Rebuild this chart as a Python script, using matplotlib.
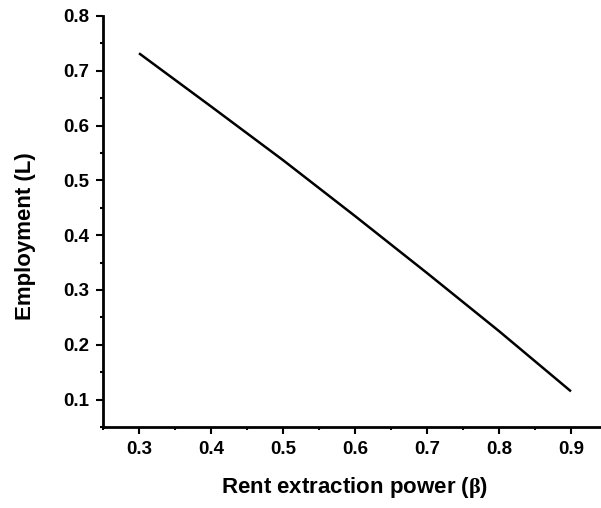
import numpy as np
import matplotlib
matplotlib.use('Agg')
import matplotlib.pyplot as plt
from matplotlib.ticker import MultipleLocator

# values
beta = [0.3, 0.4, 0.5, 0.6, 0.7, 0.8, 0.9]
employment = [0.732, 0.635, 0.537, 0.435, 0.331, 0.225, 0.115]

x_ticks = [0.3, 0.4, 0.5, 0.6, 0.7, 0.8, 0.9]
y_ticks = [0.1, 0.2, 0.3, 0.4, 0.5, 0.6, 0.7, 0.8]

plt.rcParams['font.family'] = ['Liberation Sans', 'DejaVu Sans']
plt.rcParams['font.weight'] = 'bold'
plt.rcParams['mathtext.fontset'] = 'custom'
plt.rcParams['mathtext.rm'] = 'Liberation Serif'

fig = plt.figure(figsize=(6.01, 5.08), dpi=100)
ax = fig.add_axes([103/601, 81/508, 720*0.7/601, 411/508])

ax.plot(beta, employment, color='black', linewidth=1.8, solid_capstyle='butt')

ax.set_xlim(0.25, 0.95)
ax.set_ylim(0.05, 0.8)
ax.set_xticks(x_ticks)
ax.set_yticks(y_ticks)
ax.xaxis.set_minor_locator(MultipleLocator(0.05))
ax.yaxis.set_minor_locator(MultipleLocator(0.05))
ax.set_xticklabels(['%.1f' % v for v in x_ticks])
ax.set_yticklabels(['%.1f' % v for v in y_ticks])

for side in ['top', 'right']:
    ax.spines[side].set_visible(False)
for side in ['left', 'bottom']:
    ax.spines[side].set_linewidth(2.0)

ax.tick_params(which='major', direction='out', length=5, width=1.5, labelsize=13.5, pad=5)
ax.tick_params(which='minor', direction='out', length=2.5, width=1.5)
for lab in ax.get_xticklabels() + ax.get_yticklabels():
    lab.set_fontweight('bold')

ax.set_xlabel(r'Rent extraction power ($\mathrm{\beta}$)', fontsize=16, fontweight='bold', labelpad=12)
ax.set_ylabel('Employment (L)', fontsize=16, fontweight='bold')
ax.yaxis.set_label_coords(-0.133, 0.465)

fig.savefig('out.png', dpi=100)
